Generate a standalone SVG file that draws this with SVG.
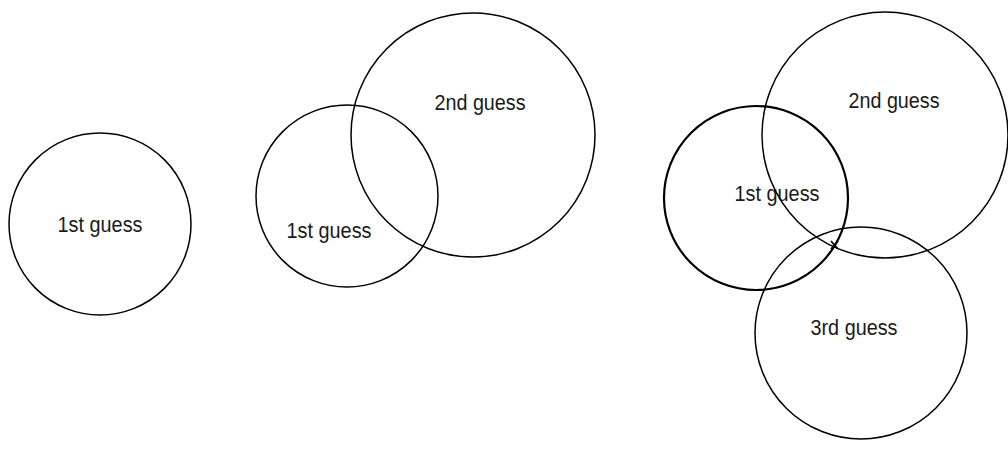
<svg xmlns="http://www.w3.org/2000/svg" width="1008" height="452" viewBox="0 0 1008 452">
<style>
.c{fill:none;stroke:#000;stroke-width:1.5}
.b{fill:none;stroke:#000;stroke-width:2.2}
text{font-family:"Liberation Sans Narrow","Liberation Sans",Arial,sans-serif;font-size:22px;fill:#1a1a1a;text-anchor:middle;dominant-baseline:central}
</style>
<rect width="1008" height="452" fill="#fff"/>
<g id="g1-first"><circle class="c" cx="100" cy="224" r="91"/><text x="100" y="224" textLength="85" lengthAdjust="spacingAndGlyphs">1st guess</text></g>
<g id="g2-first"><circle class="c" cx="347" cy="196" r="91"/><text x="329" y="230" textLength="85" lengthAdjust="spacingAndGlyphs">1st guess</text></g>
<g id="g2-second"><circle class="c" cx="473" cy="135" r="122"/><text x="480" y="102" textLength="91" lengthAdjust="spacingAndGlyphs">2nd guess</text></g>
<g id="g3-first"><circle class="b" cx="756" cy="198" r="92"/><text x="777" y="193" textLength="85" lengthAdjust="spacingAndGlyphs">1st guess</text></g>
<g id="g3-second"><circle class="c" cx="885" cy="135" r="123"/><text x="894" y="100" textLength="91" lengthAdjust="spacingAndGlyphs">2nd guess</text></g>
<g id="g3-third"><circle class="c" cx="861" cy="333" r="106"/><text x="854" y="327" textLength="87" lengthAdjust="spacingAndGlyphs">3rd guess</text></g>
<g id="connectors"><path d="M831 241 L838 249 M831 249 L838 241" stroke="#000" stroke-width="1.8" fill="none"/></g>
</svg>
